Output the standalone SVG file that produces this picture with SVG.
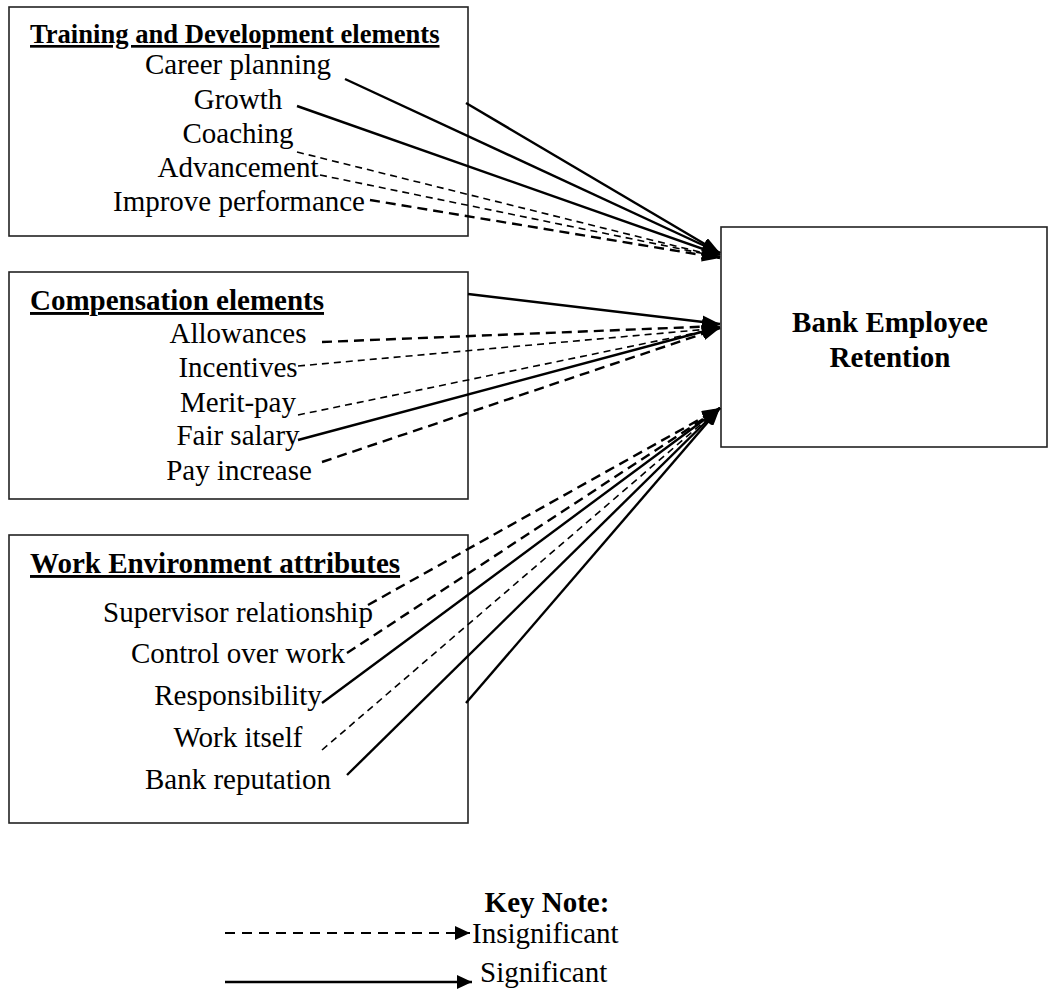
<svg xmlns="http://www.w3.org/2000/svg" width="1049" height="994" viewBox="0 0 1049 994">
  <style>
    text { font-family: "Liberation Serif", "Times New Roman", serif; fill: #000; }
    .item { font-size: 29px; text-anchor: middle; }
    .head { font-size: 29px; font-weight: bold; text-decoration: underline; }
    .box { fill: #fff; stroke: #222; stroke-width: 1.6; }
    .sig { stroke: #000; stroke-width: 2.4; fill: none; marker-end: url(#ah); }
    .ins { stroke: #000; stroke-width: 2.4; fill: none; stroke-dasharray: 10 6; marker-end: url(#ah); }
    .ins-thin { stroke: #000; stroke-width: 1.6; fill: none; stroke-dasharray: 7 5; marker-end: url(#ah); }
    .key { font-size: 29px; }
  </style>
  <defs>
    <marker id="ah" viewBox="0 0 18 13" refX="18" refY="6.5" markerWidth="18" markerHeight="13" markerUnits="userSpaceOnUse" orient="auto">
      <path d="M0,0 L18,6.5 L0,13 z" fill="#000"/>
    </marker>
    <marker id="ahKey" viewBox="0 0 15 14" refX="15" refY="7" markerWidth="15" markerHeight="14" markerUnits="userSpaceOnUse" orient="auto">
      <path d="M0,0 L15,7 L0,14 z" fill="#000"/>
    </marker>
  </defs>

  <g id="training">
    <rect class="box" x="9" y="7" width="459" height="229"/>
    <text class="head" x="30" y="43" style="font-size:26.6px">Training and Development elements</text>
    <text class="item" x="238" y="74">Career planning</text>
    <text class="item" x="238" y="109">Growth</text>
    <text class="item" x="238" y="143">Coaching</text>
    <text class="item" x="238" y="177">Advancement</text>
    <text class="item" x="239" y="211">Improve performance</text>
  </g>

  <g id="compensation">
    <rect class="box" x="9" y="272" width="459" height="227"/>
    <text class="head" x="30" y="310">Compensation elements</text>
    <text class="item" x="238" y="343">Allowances</text>
    <text class="item" x="238" y="377">Incentives</text>
    <text class="item" x="238" y="412">Merit-pay</text>
    <text class="item" x="238" y="445">Fair salary</text>
    <text class="item" x="239" y="480">Pay increase</text>
  </g>

  <g id="work-environment">
    <rect class="box" x="9" y="535" width="459" height="288"/>
    <text class="head" x="30" y="573">Work Environment attributes</text>
    <text class="item" x="238" y="622">Supervisor relationship</text>
    <text class="item" x="238" y="663">Control over work</text>
    <text class="item" x="238" y="705">Responsibility</text>
    <text class="item" x="238" y="747">Work itself</text>
    <text class="item" x="238" y="789">Bank reputation</text>
  </g>

  <g id="retention">
    <rect class="box" x="721" y="227" width="326" height="220"/>
    <text x="890" y="332" style="font-size:29px;font-weight:bold;text-anchor:middle">Bank Employee</text>
    <text x="890" y="367" style="font-size:29px;font-weight:bold;text-anchor:middle">Retention</text>
  </g>

  <g id="connectors">
    <!-- training and development -> retention -->
    <line class="sig" x1="466" y1="103" x2="720" y2="253"/>
    <line class="sig" x1="345" y1="79" x2="720" y2="253"/>
    <line class="sig" x1="297" y1="106" x2="720" y2="255"/>
    <line class="ins-thin" x1="297" y1="152" x2="720" y2="257"/>
    <line class="ins-thin" x1="320" y1="175" x2="720" y2="257"/>
    <line class="ins" x1="370" y1="200" x2="720" y2="258"/>

    <!-- compensation -> retention -->
    <line class="sig" x1="468" y1="294" x2="720" y2="324"/>
    <line class="ins" x1="322" y1="342" x2="720" y2="326"/>
    <line class="ins-thin" x1="298" y1="366" x2="720" y2="328"/>
    <line class="ins-thin" x1="298" y1="415" x2="720" y2="328"/>
    <line class="sig" x1="298" y1="440" x2="720" y2="327"/>
    <line class="ins" x1="322" y1="462" x2="720" y2="328"/>

    <!-- work environment -> retention -->
    <line class="ins" x1="368" y1="605" x2="720" y2="408"/>
    <line class="ins" x1="347" y1="653" x2="720" y2="408"/>
    <line class="sig" x1="322" y1="703" x2="720" y2="408"/>
    <line class="ins-thin" x1="322" y1="750" x2="720" y2="408"/>
    <line class="sig" x1="347" y1="775" x2="720" y2="408"/>
    <line class="sig" x1="466" y1="703" x2="720" y2="408"/>
  </g>

  <g id="key-note">
    <text x="547" y="912" style="font-size:29px;font-weight:bold;text-anchor:middle">Key Note:</text>
    <line x1="225" y1="933" x2="470" y2="933" style="stroke:#000;stroke-width:2.2;stroke-dasharray:10 7;marker-end:url(#ahKey)"/>
    <text class="key" x="472" y="943">Insignificant</text>
    <line x1="225" y1="982" x2="472" y2="982" style="stroke:#000;stroke-width:2.4;marker-end:url(#ahKey)"/>
    <text class="key" x="480" y="982">Significant</text>
  </g>
</svg>
